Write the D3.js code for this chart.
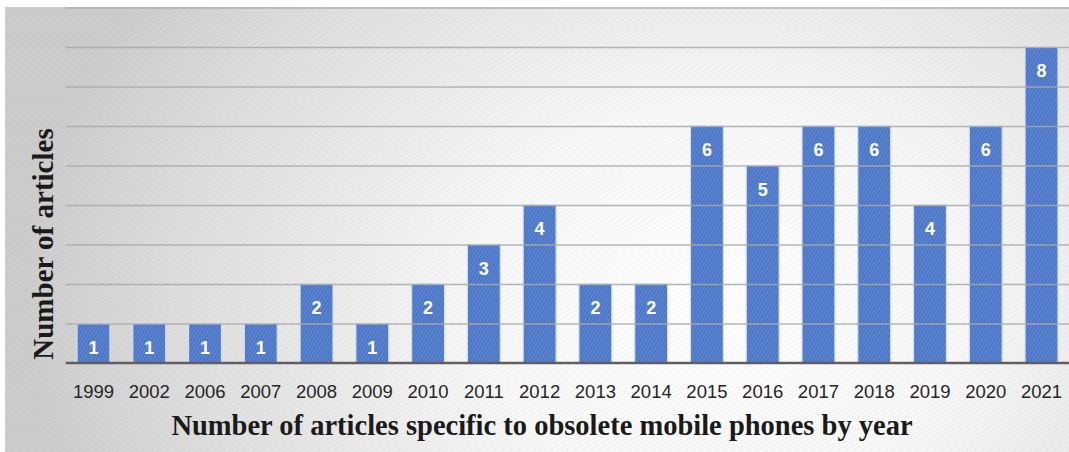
<!DOCTYPE html>
<html>
<head>
<meta charset="utf-8">
<script src="https://cdn.jsdelivr.net/npm/d3@7/dist/d3.min.js"></script>
<style>
  html, body { margin: 0; padding: 0; background: #ffffff; }
  svg { display: block; }
</style>
</head>
<body>
<svg id="chart" width="1069" height="452"></svg>
<script>
// Articles on obsolete mobile phones, counted per publication year
const years = ["1999", "2002", "2006", "2007", "2008", "2009", "2010", "2011", "2012",
               "2013", "2014", "2015", "2016", "2017", "2018", "2019", "2020", "2021"];
const articleCounts = [1, 1, 1, 1, 2, 1, 2, 3, 4, 2, 2, 6, 5, 6, 6, 4, 6, 8];
const gridValues = [0, 1, 2, 3, 4, 5, 6, 7, 8, 9];
const xTitle = "Number of articles specific to obsolete mobile phones by year";
const yTitle = "Number of articles";

const W = 1069, H = 452;
const svg = d3.select("#chart");
const defs = svg.append("defs");

// soft radial backdrop
const bg = defs.append("radialGradient")
  .attr("id", "bgGrad")
  .attr("gradientUnits", "userSpaceOnUse")
  .attr("cx", 720).attr("cy", 300).attr("r", 700)
  .attr("gradientTransform", "translate(720,300) scale(1,0.8) translate(-720,-300)");
bg.append("stop").attr("offset", 0).attr("stop-color", "#ffffff");
bg.append("stop").attr("offset", 0.35).attr("stop-color", "#f8f8f8");
bg.append("stop").attr("offset", 0.75).attr("stop-color", "#e0e0e0");
bg.append("stop").attr("offset", 1).attr("stop-color", "#cdcdcd");

// fine woven texture for the backdrop
const tex = defs.append("pattern")
  .attr("id", "bgTex").attr("patternUnits", "userSpaceOnUse")
  .attr("width", 4).attr("height", 4)
  .attr("patternTransform", "rotate(-30)");
tex.append("rect").attr("width", 4).attr("height", 1.2).attr("fill", "#000").attr("opacity", 0.03);

// textured bar fill
const barTex = defs.append("pattern")
  .attr("id", "barTex").attr("patternUnits", "userSpaceOnUse")
  .attr("width", 3).attr("height", 3)
  .attr("patternTransform", "rotate(-60)");
barTex.append("rect").attr("width", 3).attr("height", 3).attr("fill", "#4b75c6");
barTex.append("rect").attr("width", 3).attr("height", 1).attr("fill", "#7094d6").attr("opacity", 0.7);

svg.append("rect").attr("x", 5).attr("y", 7).attr("width", W - 5).attr("height", H - 7)
  .attr("fill", "url(#bgGrad)");
svg.append("rect").attr("x", 5).attr("y", 7).attr("width", W - 5).attr("height", H - 7)
  .attr("fill", "url(#bgTex)");

const x = d3.scaleBand().domain(years).range([65.6, 1069.4]).paddingInner(0.41).paddingOuter(0.205);
const y = d3.scaleLinear().domain([0, 9]).range([363, 7.5]);

// bars
const rows = years.map((yr, i) => ({ yr, v: articleCounts[i] }));
svg.append("g").selectAll("rect")
  .data(rows)
  .join("rect")
  .attr("x", d => x(d.yr))
  .attr("y", d => y(d.v))
  .attr("width", x.bandwidth())
  .attr("height", d => y(0) - y(d.v))
  .attr("fill", "url(#barTex)")
  .attr("stroke", "#d3ddf0")
  .attr("stroke-width", 1.2);

// horizontal gridlines drawn over the bars
const grid = svg.append("g")
  .attr("transform", `translate(${65.6},0)`)
  .call(d3.axisLeft(y).tickValues(gridValues.slice(1)).tickSize(-(W - 65.6)).tickFormat(""));
grid.select(".domain").remove();
grid.selectAll(".tick line").attr("stroke", "#a9a9a9").attr("stroke-width", 1.4).attr("opacity", 0.85);

// baseline and year labels
const xAxis = svg.append("g")
  .attr("transform", `translate(0,${y(0)})`)
  .call(d3.axisBottom(x).tickSize(0).tickPadding(22));
xAxis.select(".domain").remove();
xAxis.append("line").attr("x1", 65.6).attr("x2", W).attr("y1", 0).attr("y2", 0)
  .attr("stroke", "#5f5f5f").attr("stroke-width", 2.6);
xAxis.selectAll(".tick text")
  .attr("font-family", "'Liberation Sans', Arial, sans-serif")
  .attr("font-size", 18.5)
  .attr("fill", "#262626");

// value labels
svg.append("g").selectAll("text")
  .data(rows)
  .join("text")
  .attr("x", d => x(d.yr) + x.bandwidth() / 2)
  .attr("y", d => y(d.v) + 24)
  .attr("dy", "0.35em")
  .attr("text-anchor", "middle")
  .attr("font-family", "'Liberation Sans', Arial, sans-serif")
  .attr("font-weight", "bold")
  .attr("font-size", 18)
  .attr("fill", "#ffffff")
  .text(d => d.v);

// axis titles
svg.append("text")
  .attr("x", 542).attr("y", 435)
  .attr("text-anchor", "middle")
  .attr("font-family", "'Liberation Serif', 'Times New Roman', serif")
  .attr("font-weight", "bold")
  .attr("font-size", 28.5)
  .attr("fill", "#1a1a1a")
  .text(xTitle);

svg.append("text")
  .attr("transform", "translate(53,244) rotate(-90)")
  .attr("text-anchor", "middle")
  .attr("font-family", "'Liberation Serif', 'Times New Roman', serif")
  .attr("font-weight", "bold")
  .attr("font-size", 29)
  .attr("fill", "#1a1a1a")
  .text(yTitle);
</script>
</body>
</html>
